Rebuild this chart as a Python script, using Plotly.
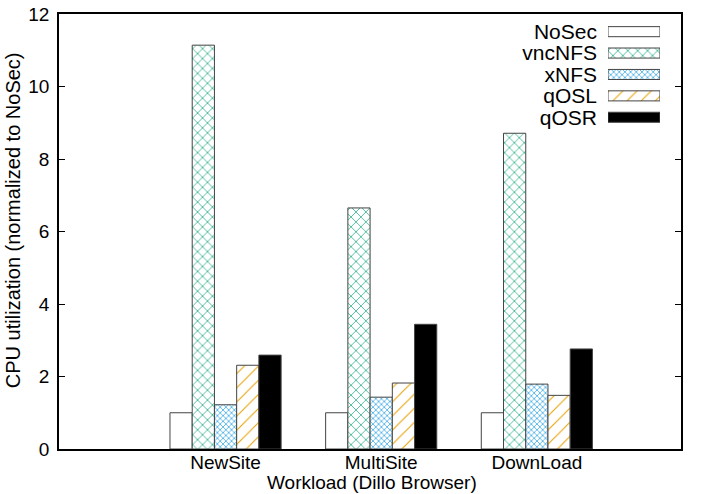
# plot.py
# Histogramme CPU (Dillo) avec Plotly

import plotly.graph_objects as go

categories = ["NewSite", "MultiSite", "DownLoad"]
series_names = ["NoSec", "vncNFS", "xNFS", "qOSL", "qOSR"]

nosec = [1.0, 1.0, 1.0]
vncnfs = [11.14, 6.65, 8.71]
xnfs = [1.22, 1.43, 1.79]
qosl = [2.31, 1.82, 1.48]
qosr = [2.59, 3.44, 2.76]

y_ticks = [0, 2, 4, 6, 8, 10, 12]

FONT = "Liberation Sans, Arial, Helvetica, sans-serif"

# style de chaque serie : (fond, motif, couleur du motif, taille, solidite)
styles = {
    "NoSec": ("white", "", "white", 8, 0.2),
    "vncNFS": ("white", "x", "#009e73", 7, 0.18),
    "xNFS": ("white", "x", "#56b4e9", 4, 0.4),
    "qOSL": ("white", "/", "#e69f00", 10, 0.1),
    "qOSR": ("black", "", "black", 8, 0.2),
}


def bar_marker(name):
    bg, shape, fg, size, solid = styles[name]
    return dict(
        color=bg,
        line=dict(color="#444444", width=1),
        pattern=dict(shape=shape, fgcolor=fg, bgcolor=bg,
                     size=size, solidity=solid, fillmode="replace"),
    )


values = [nosec, vncnfs, xnfs, qosl, qosr]
x_pos = list(range(len(categories)))

fig = go.Figure()

for name, vals in zip(series_names, values):
    fig.add_trace(go.Bar(
        x=x_pos, y=vals, name=name,
        marker=bar_marker(name),
        showlegend=False,
    ))

# legende facon gnuplot : texte a gauche, echantillon a droite
for name in series_names:
    fig.add_trace(go.Bar(
        x=[1], y=[name], orientation="h",
        xaxis="x2", yaxis="y2", width=0.47, offset=-0.235,
        marker=bar_marker(name),
        showlegend=False, hoverinfo="skip",
    ))

fig.update_layout(
    width=706, height=494,
    margin=dict(l=59, r=25, t=14, b=45),
    paper_bgcolor="white", plot_bgcolor="white",
    barmode="group", bargap=0.286, bargroupgap=0,
    font=dict(family=FONT, size=19, color="black"),
    xaxis=dict(
        range=[-1.07, 2.926], tickvals=x_pos, ticktext=categories,
        showline=True, linecolor="black", linewidth=1.5, mirror=True,
        ticks="", showgrid=False, zeroline=False, automargin=False,
        ticklabelstandoff=-5, tickfont=dict(size=19),
    ),
    yaxis=dict(
        range=[0, 12], tickvals=y_ticks,
        showline=True, linecolor="black", linewidth=1.5, mirror="ticks",
        ticks="inside", ticklen=6, tickcolor="black", tickwidth=1,
        showgrid=False, zeroline=False, ticklabelstandoff=4,
        automargin=False, tickfont=dict(size=19),
    ),
    xaxis2=dict(domain=[0.8826, 0.9662], range=[0, 1], anchor="y2",
                visible=False, fixedrange=True),
    yaxis2=dict(domain=[0.738, 0.984], anchor="x2", type="category",
                categoryorder="array", categoryarray=series_names,
                tickmode="array", tickvals=series_names,
                ticktext=series_names,
                range=[4.5, -0.5], showline=False, showgrid=False,
                zeroline=False, ticks="", ticklabelstandoff=10,
                automargin=False, tickfont=dict(size=21)),
    annotations=[
        dict(text="CPU utilization (normalized to NoSec)", textangle=-90,
             xref="paper", yref="paper", x=-0.074, y=0.526,
             xanchor="center", yanchor="middle", showarrow=False,
             font=dict(size=20)),
        dict(text="Workload (Dillo Browser)",
             xref="paper", yref="paper", x=0.504, y=-0.078,
             xanchor="center", yanchor="middle", showarrow=False,
             font=dict(size=19)),
    ],
)

fig.write_html("out.html", config={"displayModeBar": False},
               post_script="document.body.style.margin='0';")
